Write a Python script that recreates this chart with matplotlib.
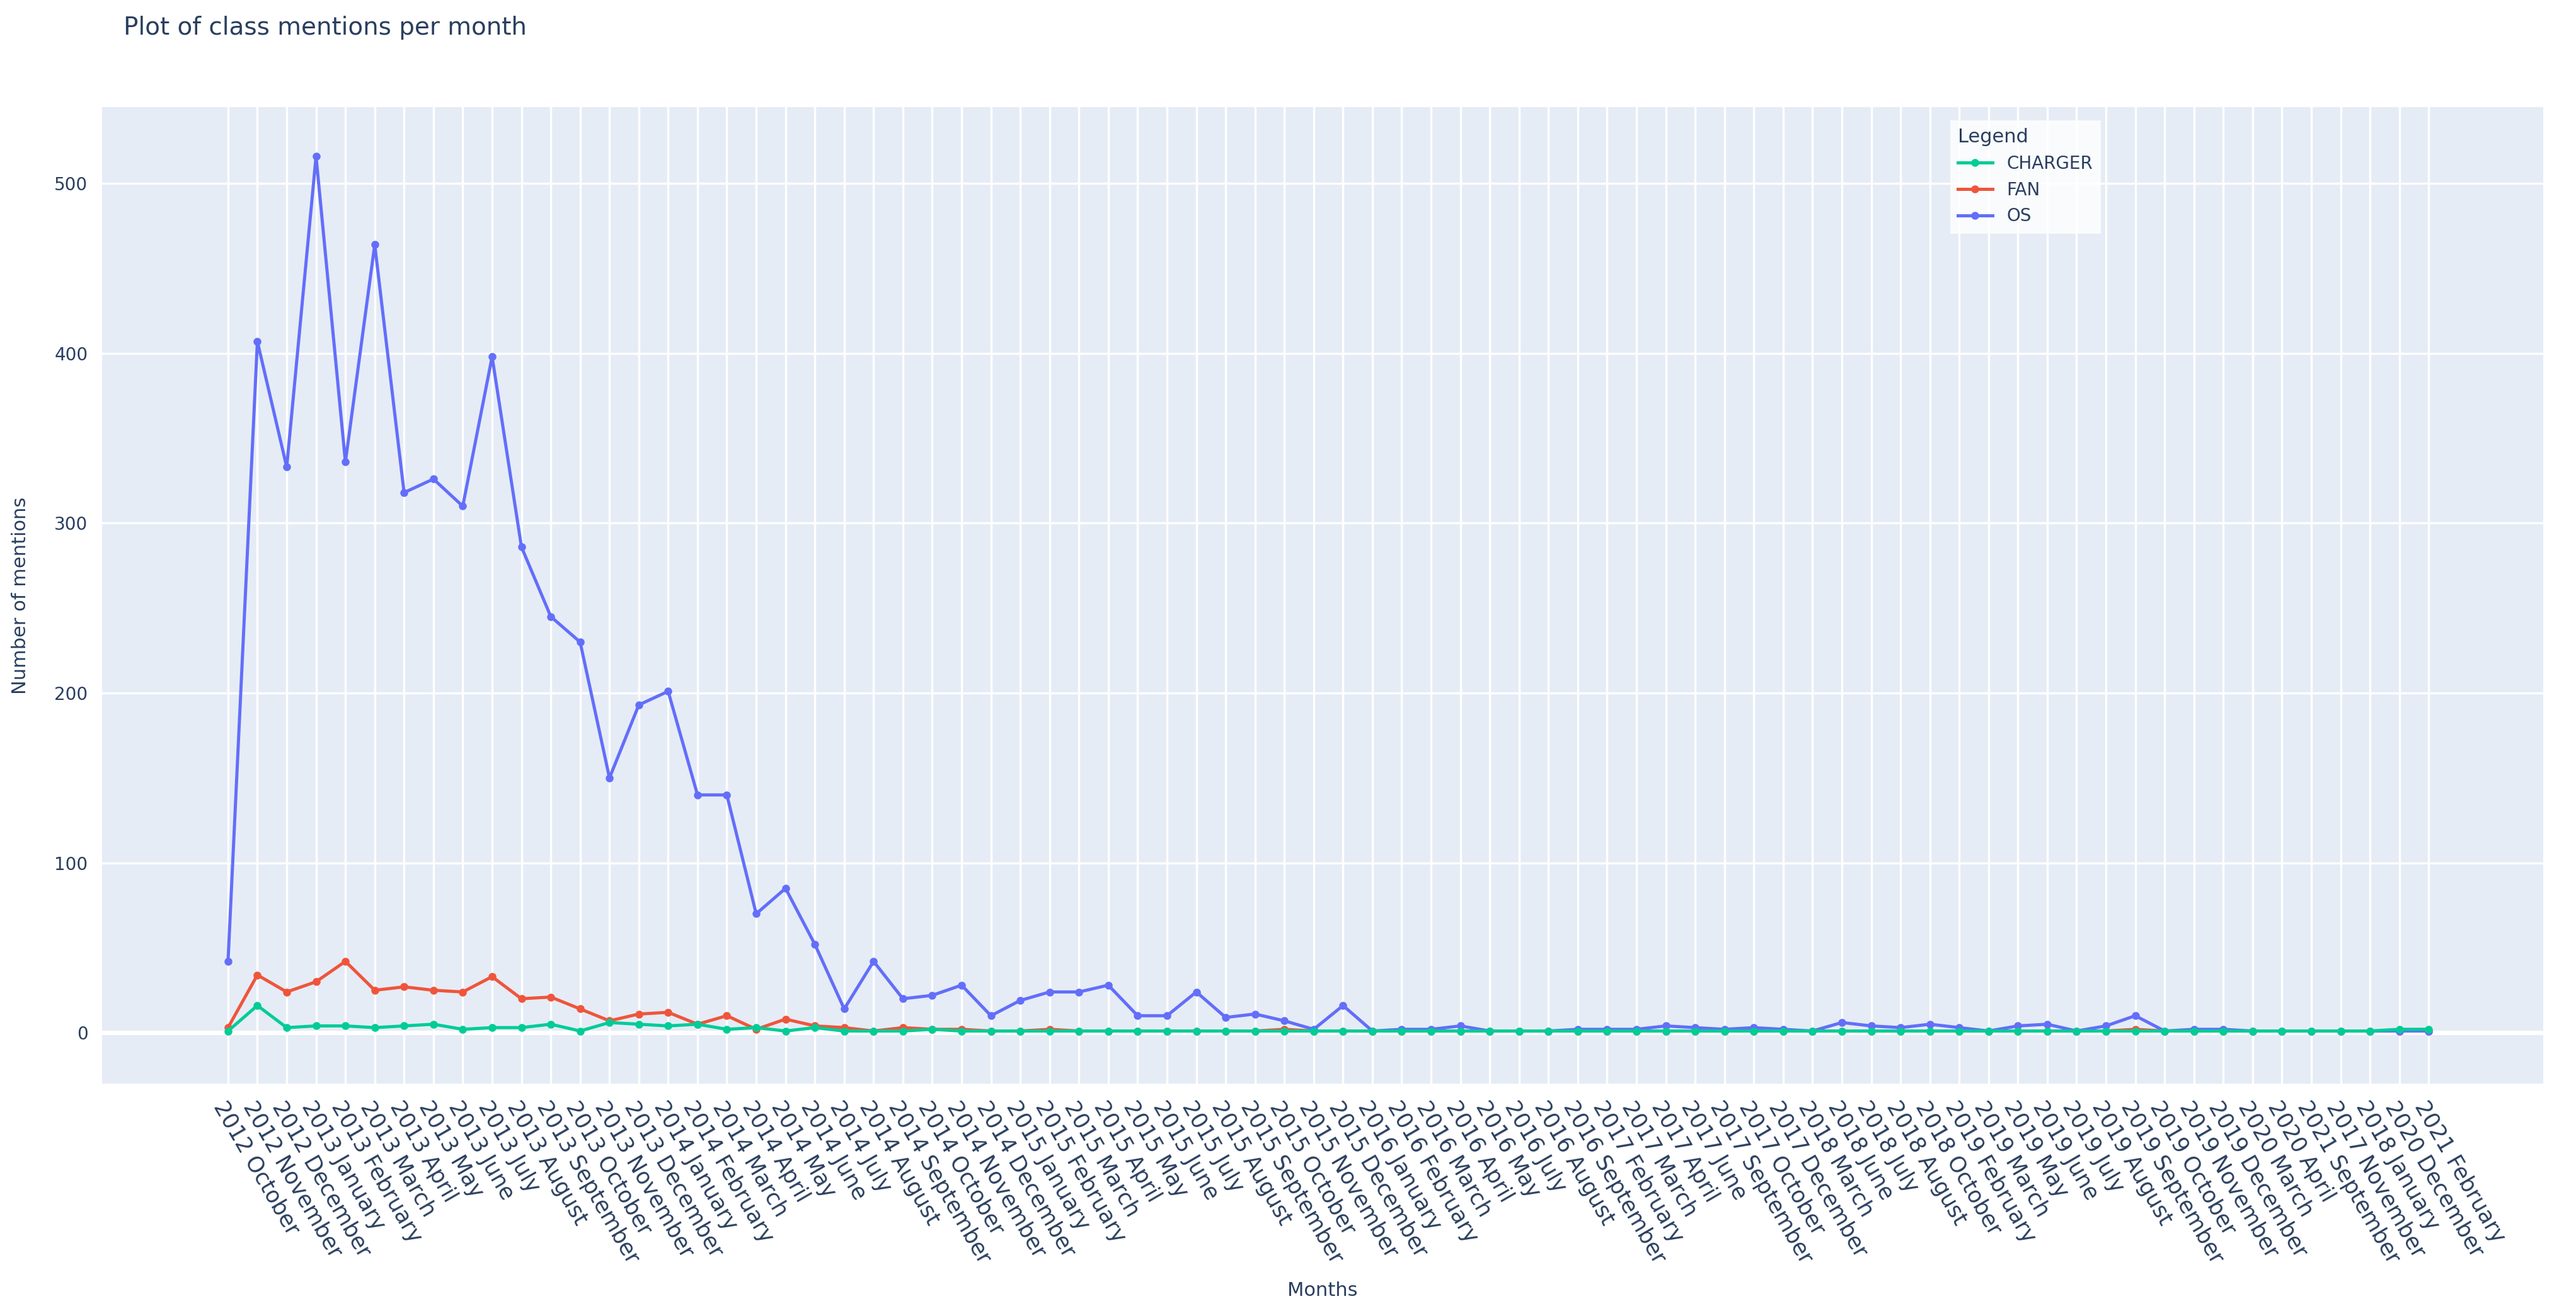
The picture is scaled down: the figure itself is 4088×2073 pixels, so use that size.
import matplotlib.pyplot as plt
import numpy as np

months = [
    "2012 October", "2012 November", "2012 December",
    "2013 January", "2013 February", "2013 March", "2013 April", "2013 May", "2013 June",
    "2013 July", "2013 August", "2013 September", "2013 October", "2013 November", "2013 December",
    "2014 January", "2014 February", "2014 March", "2014 April", "2014 May", "2014 June",
    "2014 July", "2014 August", "2014 September", "2014 October", "2014 November", "2014 December",
    "2015 January", "2015 February", "2015 March", "2015 April", "2015 May", "2015 June",
    "2015 July", "2015 August", "2015 September", "2015 October", "2015 November", "2015 December",
    "2016 January", "2016 February", "2016 March", "2016 April", "2016 May", "2016 July",
    "2016 August", "2016 September",
    "2017 February", "2017 March", "2017 April", "2017 June", "2017 September", "2017 October",
    "2017 December",
    "2018 March", "2018 June", "2018 July", "2018 August", "2018 October",
    "2019 February", "2019 March", "2019 May", "2019 June", "2019 July", "2019 August",
    "2019 September", "2019 October", "2019 November", "2019 December",
    "2020 March", "2020 April", "2021 September", "2017 November", "2018 January",
    "2020 December", "2021 February",
]

charger = [1, 16, 3, 4, 4, 3, 4, 5, 2, 3, 3, 5, 1, 6, 5, 4, 5, 2, 3, 1,
           3, 1, 1, 1, 2, 1, 1, 1, 1, 1, 1, 1, 1, 1, 1, 1, 1, 1, 1, 1,
           1, 1, 1, 1, 1, 1, 1, 1, 1, 1, 1, 1, 1, 1, 1, 1, 1, 1, 1, 1,
           1, 1, 1, 1, 1, 1, 1, 1, 1, 1, 1, 1, 1, 1, 2, 2]
fan = [3, 34, 24, 30, 42, 25, 27, 25, 24, 33, 20, 21, 14, 7, 11, 12, 5, 10, 2, 8,
       4, 3, 1, 3, 2, 2, 1, 1, 2, 1, 1, 1, 1, 1, 1, 1, 2, 1, 1, 1,
       1, 1, 1, 1, 1, 1, 1, 1, 1, 1, 1, 1, 1, 1, 1, 1, 1, 1, 1, 1,
       1, 1, 1, 1, 1, 2, 1, 1, 1, 1, 1, 1, 1, 1, 1, 1]
os_ = [42, 407, 333, 516, 336, 464, 318, 326, 310, 398, 286, 245, 230, 150, 193, 201,
       140, 140, 70, 85, 52, 14, 42, 20, 22, 28, 10, 19, 24, 24, 28, 10, 10, 24, 9, 11,
       7, 2, 16, 1, 2, 2, 4, 1, 1, 1, 2, 2, 2, 4, 3, 2, 3, 2, 1, 6,
       4, 3, 5, 3, 1, 4, 5, 1, 4, 10, 1, 2, 2, 1, 1, 1, 1, 1, 1, 1]

x = np.arange(len(months))

fig = plt.figure(figsize=(20.44, 10.365), dpi=200)
ax = fig.add_axes([62 / 1568, 1 - 658 / 793, (1548 - 62) / 1568, (658 - 65) / 793])
ax.set_facecolor("#E5ECF6")
for s in ax.spines.values():
    s.set_visible(False)
ax.grid(True, color="white", linewidth=1.2)
ax.set_axisbelow(True)
ax.axhline(0, color="white", linewidth=2.5, zorder=1)

ax.plot(x, charger, "-o", color="#00CC96", lw=1.8, ms=3.5, label="CHARGER", zorder=3)
ax.plot(x, fan, "-o", color="#EF553B", lw=1.8, ms=3.5, label="FAN", zorder=2)
ax.plot(x, os_, "-o", color="#636EFA", lw=1.8, ms=3.5, label="OS", zorder=2)

ax.set_xlim(-4.3, len(months) - 1 + 3.9)
ax.set_ylim(-30, 545)
ax.set_yticks([0, 100, 200, 300, 400, 500])
ax.set_xticks(x)
ax.set_xticklabels(months, rotation=-60, ha="left", va="top",
                   rotation_mode="anchor", fontsize=12.5, color="#2a3f5f")
ax.tick_params(axis="both", length=0, pad=8)
ax.tick_params(axis="y", labelsize=10, colors="#2a3f5f")

ax.set_xlabel("Months", fontsize=11, color="#2a3f5f", labelpad=8)
ax.set_ylabel("Number of mentions", fontsize=11, color="#2a3f5f", labelpad=14)
fig.text(75 / 1568, 1 - 17 / 793, "Plot of class mentions per month",
         fontsize=14, color="#2a3f5f", va="center")

leg = ax.legend(title="Legend", loc="upper left", bbox_to_anchor=((1182 - 62) / 1486, 1 - 3 / 593),
                frameon=True, fancybox=False, fontsize=10, title_fontsize=11,
                markerscale=1, handlelength=2)
leg.get_frame().set_edgecolor("white")
leg.get_frame().set_facecolor("white")
leg._legend_box.align = "left"
for t in leg.get_texts():
    t.set_color("#2a3f5f")
leg.get_title().set_color("#2a3f5f")

fig.savefig("out.png", dpi=200, facecolor="white")
